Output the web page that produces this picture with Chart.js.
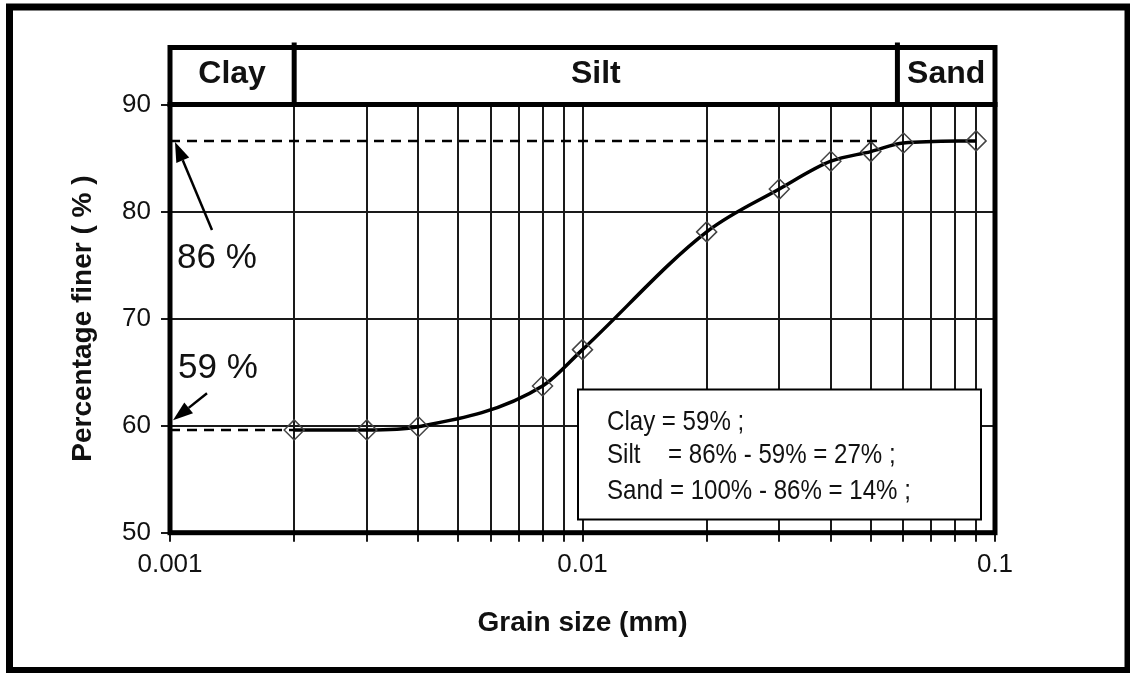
<!DOCTYPE html>
<html>
<head>
<meta charset="utf-8">
<script src="https://cdn.jsdelivr.net/npm/chart.js@4.4.1/dist/chart.umd.min.js"></script>
<style>
  html, body { margin: 0; padding: 0; background: #fff; }
  #wrap { width: 1130px; height: 673px; }
</style>
</head>
<body>
<div id="wrap"><canvas id="grainChart" width="1130" height="673"></canvas></div>
<script>
// grain size distribution (hydrometer test)
const grainSize = [0.002, 0.003, 0.004, 0.008, 0.01, 0.02, 0.03, 0.04, 0.05, 0.06, 0.09];
const percentFiner = [59.6, 59.6, 59.9, 63.7, 67.1, 78.1, 82.1, 84.7, 85.6, 86.4, 86.6];

const line86x = [0.001, 0.053];
const line86y = [86.6, 86.6];
const line59x = [0.001, 0.002];
const line59y = [59.6, 59.6];

// axis ticks
const xTicks = [0.001, 0.002, 0.003, 0.004, 0.005, 0.006, 0.007, 0.008, 0.009,
                0.01, 0.02, 0.03, 0.04, 0.05, 0.06, 0.07, 0.08, 0.09, 0.1];
const xTickLabels = ['0.001', '0.01', '0.1'];
const yTicks = [50, 60, 70, 80, 90];

// soil classes shown in the band above the plot
const classNames = ['Clay', 'Silt', 'Sand'];
const classBounds = [0.001, 0.002, 0.058, 0.1];

const summaryLines = [
    ['Clay', '= 59% ;'],
    ['Silt', '= 86% - 59% = 27% ;'],
    ['Sand', '= 100% - 86% = 14% ;']
];

const FONT = '"Liberation Sans", Arial, sans-serif';
const INK = '#111';

function drawArrow(ctx, x1, y1, x2, y2) {
    const ang = Math.atan2(y2 - y1, x2 - x1);
    const len = 20, half = 7;
    const bx = x2 - Math.cos(ang) * len;
    const by = y2 - Math.sin(ang) * len;
    ctx.beginPath();
    ctx.moveTo(x1, y1);
    ctx.lineTo(bx, by);
    ctx.lineWidth = 2.5;
    ctx.stroke();
    ctx.beginPath();
    ctx.moveTo(x2, y2);
    ctx.lineTo(bx + Math.sin(ang) * half, by - Math.cos(ang) * half);
    ctx.lineTo(bx - Math.sin(ang) * half, by + Math.cos(ang) * half);
    ctx.closePath();
    ctx.fill();
}

const decorations = {
    id: 'decorations',
    afterDraw(chart) {
        const ctx = chart.ctx;
        const area = chart.chartArea;
        const xs = chart.scales.x;
        const ys = chart.scales.y;
        const bandTop = area.top - 57;

        ctx.save();
        ctx.strokeStyle = '#000';
        ctx.fillStyle = INK;

        // class band
        ctx.lineWidth = 5;
        ctx.strokeRect(area.left, bandTop, area.right - area.left, area.top - bandTop);
        for (let i = 1; i < classBounds.length - 1; i++) {
            const px = xs.getPixelForValue(classBounds[i]);
            ctx.beginPath();
            ctx.moveTo(px, bandTop - 5);
            ctx.lineTo(px, area.top);
            ctx.stroke();
        }
        ctx.font = 'bold 32px ' + FONT;
        ctx.textAlign = 'center';
        ctx.textBaseline = 'alphabetic';
        classNames.forEach((name, i) => {
            const a = xs.getPixelForValue(classBounds[i]);
            const b = xs.getPixelForValue(classBounds[i + 1]);
            ctx.fillText(name, (a + b) / 2, area.top - 22);
        });

        // plot frame
        ctx.lineWidth = 5;
        ctx.strokeRect(area.left, area.top, area.right - area.left, area.bottom - area.top);

        // arrows and percentages
        ctx.fillStyle = '#000';
        const tip86x = area.left + 5, tip86y = ys.getPixelForValue(86.6) + 1;
        drawArrow(ctx, tip86x + 37, tip86y + 88, tip86x, tip86y);
        const tip59x = area.left + 3, tip59y = ys.getPixelForValue(60.5);
        drawArrow(ctx, tip59x + 34, tip59y - 27, tip59x, tip59y);

        ctx.fillStyle = INK;
        ctx.font = '35px ' + FONT;
        ctx.textAlign = 'left';
        ctx.fillText('86 %', area.left + 7, area.top + 163);
        ctx.fillText('59 %', area.left + 8, area.top + 273);

        // summary box
        const bx = area.left + 408, by = area.top + 285;
        ctx.fillStyle = '#fff';
        ctx.fillRect(bx, by, 403, 130);
        ctx.lineWidth = 2;
        ctx.strokeRect(bx, by, 403, 130);
        ctx.fillStyle = INK;
        ctx.font = '28px ' + FONT;
        const baselines = [40, 73, 109];
        summaryLines.forEach((ln, i) => {
            ctx.save();
            ctx.translate(bx + 29, by + baselines[i]);
            ctx.scale(0.86, 1);
            ctx.fillText(ln[0], 0, 0);
            const gap = i === 1 ? 71 : ctx.measureText(ln[0] + ' ').width;
            ctx.fillText(ln[1], gap, 0);
            ctx.restore();
        });

        // outer frame of the figure
        ctx.lineWidth = 7;
        ctx.strokeRect(9.5, 7, 1118.5, 663.5);
        ctx.restore();
    }
};

const gridStyle = {
    color: '#1a1a1a',
    lineWidth: 2,
    tickLength: 9,
    tickColor: '#1a1a1a'
};

new Chart(document.getElementById('grainChart').getContext('2d'), {
    type: 'line',
    data: {
        datasets: [
            {
                label: '86 %',
                data: line86x.map((x, i) => ({ x: x, y: line86y[i] })),
                borderColor: '#000',
                borderWidth: 2.5,
                borderDash: [10, 7],
                pointRadius: 0,
                fill: false
            },
            {
                label: '59 %',
                data: line59x.map((x, i) => ({ x: x, y: line59y[i] })),
                borderColor: '#000',
                borderWidth: 2.5,
                borderDash: [10, 7],
                pointRadius: 0,
                fill: false
            },
            {
                label: 'Percentage finer',
                data: grainSize.map((x, i) => ({ x: x, y: percentFiner[i] })),
                borderColor: '#000',
                borderWidth: 3.5,
                cubicInterpolationMode: 'monotone',
                pointStyle: 'rectRot',
                pointRadius: 10,
                pointBorderWidth: 1.5,
                pointBorderColor: '#444',
                pointBackgroundColor: 'rgba(255,255,255,0)',
                fill: false
            }
        ]
    },
    options: {
        responsive: false,
        animation: false,
        devicePixelRatio: 1,
        layout: { padding: { left: 0, top: 104.5, right: 135, bottom: 0 } },
        plugins: {
            legend: { display: false },
            tooltip: { enabled: false }
        },
        scales: {
            x: {
                type: 'logarithmic',
                min: 0.001,
                max: 0.1,
                afterBuildTicks: scale => {
                    scale.ticks = xTicks.map(v => ({ value: v }));
                },
                afterFit: scale => { scale.height = 140.3; },
                grid: gridStyle,
                border: { display: false },
                ticks: {
                    autoSkip: false,
                    maxRotation: 0,
                    padding: 8,
                    color: INK,
                    font: { family: FONT, size: 26 },
                    callback: value => {
                        const lbl = xTickLabels.find(t => Math.abs(parseFloat(t) - value) < 1e-9);
                        return lbl || '';
                    }
                },
                title: {
                    display: true,
                    text: 'Grain size (mm)',
                    color: INK,
                    font: { family: FONT, size: 28, weight: 'bold' },
                    padding: { top: 0, bottom: 33 }
                }
            },
            y: {
                min: 50,
                max: 90,
                afterBuildTicks: scale => {
                    scale.ticks = yTicks.map(v => ({ value: v }));
                },
                afterFit: scale => { scale.width = 170; },
                grid: gridStyle,
                border: { display: false },
                ticks: {
                    padding: 10,
                    color: INK,
                    font: { family: FONT, size: 26 }
                },
                title: {
                    display: true,
                    text: 'Percentage finer ( % )',
                    color: INK,
                    font: { family: FONT, size: 28, weight: 'bold' },
                    padding: { top: 66, bottom: 0 }
                }
            }
        }
    },
    plugins: [decorations]
});
</script>
</body>
</html>
